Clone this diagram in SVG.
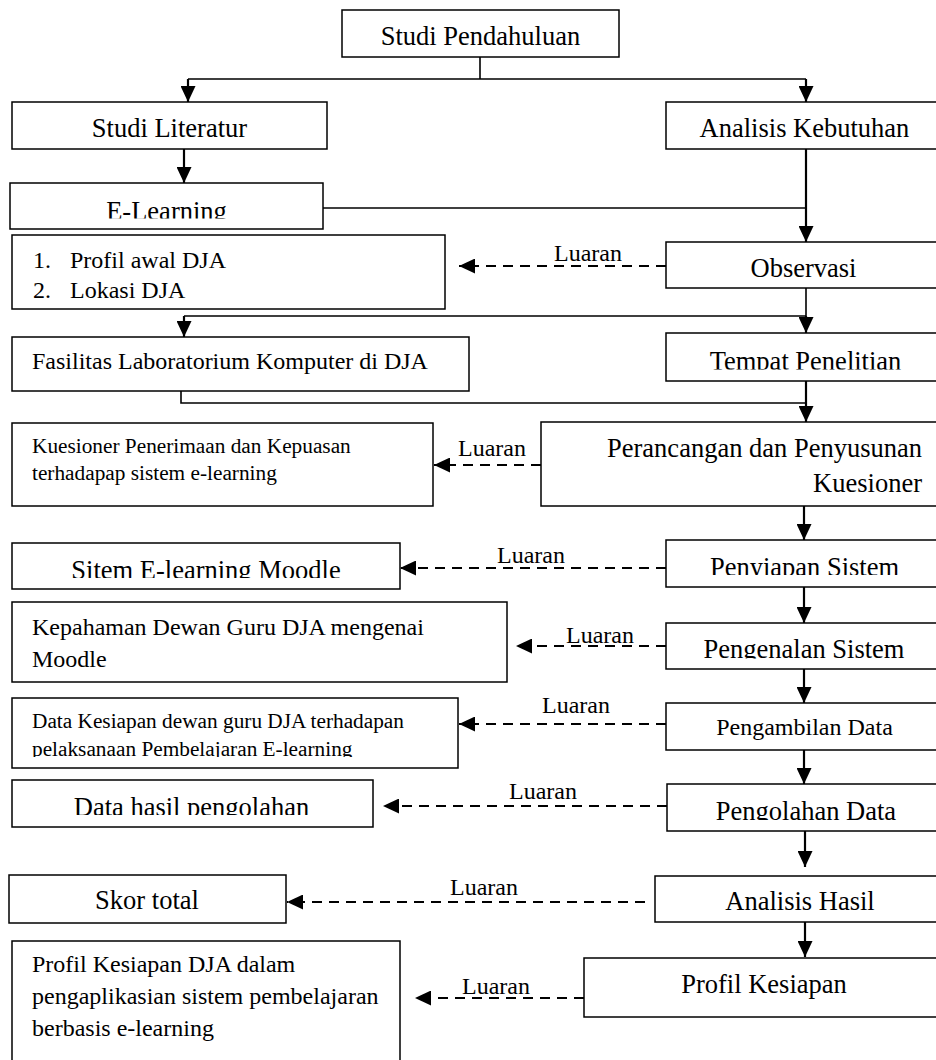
<svg xmlns="http://www.w3.org/2000/svg" width="936" height="1060" viewBox="0 0 936 1060">
<style>
  .box { fill: #fff; stroke: #000; stroke-width: 1.5; }
  .t { font-family: "Liberation Serif", "Times New Roman", serif; fill: #000; }
  .big { font-size: 26.5px; }
  .mid { font-size: 24px; }
  .sm { font-size: 21.3px; }
  .c { text-anchor: middle; }
  .lbl { font-family: "Liberation Serif", "Times New Roman", serif; font-size: 24px; fill: #000; }
  .ln { fill: none; stroke: #000; stroke-width: 1.6; }
  .ar { fill: none; stroke: #000; stroke-width: 2.2; marker-end: url(#ah); }
  .da { fill: none; stroke: #000; stroke-width: 2.2; stroke-dasharray: 10 7; marker-end: url(#ah); }
</style>
<defs>
  <marker id="ah" viewBox="0 0 16 15" refX="16" refY="7.5" markerWidth="16" markerHeight="15" markerUnits="userSpaceOnUse" orient="auto">
    <path d="M0,0 L16,7.5 L0,15 z" fill="#000"/>
  </marker>
  <clipPath id="cE"><rect x="0" y="180" width="936" height="38.5"/></clipPath>
  <clipPath id="cTempat"><rect x="0" y="330" width="936" height="39.5"/></clipPath>
  <clipPath id="cSitem"><rect x="0" y="540" width="936" height="38"/></clipPath>
  <clipPath id="cPenyiapan"><rect x="0" y="537" width="936" height="38"/></clipPath>
  <clipPath id="cPengenalan"><rect x="0" y="620" width="936" height="38.5"/></clipPath>
  <clipPath id="cKesiapan"><rect x="0" y="695" width="936" height="62"/></clipPath>
  <clipPath id="cHasil"><rect x="0" y="777" width="936" height="38"/></clipPath>
  <clipPath id="cOlah"><rect x="0" y="781" width="936" height="39"/></clipPath>
</defs>
<rect width="936" height="1060" fill="#fff"/>

<g id="connectors">
  <path class="ln" d="M480,57 V79 M188,79 H806"/>
  <path class="ar" d="M188,79 V102"/>
  <path class="ar" d="M806,79 V102"/>
  <path class="ar" d="M184,149 V183"/>
  <path class="ln" d="M323,208 H806"/>
  <path class="ar" d="M806,149 V242"/>
  <path class="da" d="M666,266 H459"/>
  <text class="lbl" x="554" y="261">Luaran</text>
  <path class="ln" d="M806,288 V316 M184,316 H806"/>
  <path class="ar" d="M184,316 V337"/>
  <path class="ar" d="M806,316 V333"/>
  <path class="ln" d="M181,391 V403 H806"/>
  <path class="ar" d="M806,381 V422"/>
  <path class="da" d="M541,465 H434"/>
  <text class="lbl" x="458" y="456">Luaran</text>
  <path class="ar" d="M804,506 V540"/>
  <path class="da" d="M666,568 H400"/>
  <text class="lbl" x="497" y="563">Luaran</text>
  <path class="ar" d="M804,587 V623"/>
  <path class="da" d="M666,646 H516"/>
  <text class="lbl" x="566" y="643">Luaran</text>
  <path class="ar" d="M804,669 V703"/>
  <path class="da" d="M666,724 H459"/>
  <text class="lbl" x="542" y="713">Luaran</text>
  <path class="ar" d="M804,750 V784"/>
  <path class="da" d="M667,806 H383"/>
  <text class="lbl" x="509" y="799">Luaran</text>
  <path class="ar" d="M805,831 V867"/>
  <path class="da" d="M645,902 H287"/>
  <text class="lbl" x="450" y="895">Luaran</text>
  <path class="ar" d="M805,922 V957"/>
  <path class="da" d="M584,998 H415"/>
  <text class="lbl" x="462" y="994">Luaran</text>
</g>

<g id="n-studi-pendahuluan">
  <rect class="box" x="342" y="10" width="277" height="47"/>
  <text class="t big c" x="480.5" y="45">Studi Pendahuluan</text>
</g>
<g id="n-studi-literatur">
  <rect class="box" x="12" y="102" width="315" height="47"/>
  <text class="t big c" x="169.5" y="137">Studi Literatur</text>
</g>
<g id="n-analisis-kebutuhan">
  <rect class="box" x="666" y="102" width="280" height="47"/>
  <text class="t big c" x="804.5" y="137">Analisis Kebutuhan</text>
</g>
<g id="n-elearning">
  <rect class="box" x="10" y="183" width="313" height="46"/>
  <text class="t big c" x="166.5" y="219.5" clip-path="url(#cE)">E-Learning</text>
</g>
<g id="n-observasi">
  <rect class="box" x="666" y="242" width="280" height="46"/>
  <text class="t big c" x="803.5" y="277">Observasi</text>
</g>
<g id="n-profil-awal">
  <rect class="box" x="12" y="235" width="433" height="74"/>
  <text class="t mid" x="33" y="268">1.</text>
  <text class="t mid" x="70" y="268">Profil awal DJA</text>
  <text class="t mid" x="33" y="298">2.</text>
  <text class="t mid" x="70" y="298">Lokasi DJA</text>
</g>
<g id="n-fasilitas">
  <rect class="box" x="12" y="337" width="457" height="54"/>
  <text class="t mid" x="32" y="369">Fasilitas Laboratorium Komputer di DJA</text>
</g>
<g id="n-tempat">
  <rect class="box" x="666" y="333" width="280" height="48"/>
  <text class="t big c" x="805.5" y="370" clip-path="url(#cTempat)">Tempat Penelitian</text>
</g>
<g id="n-kuesioner">
  <rect class="box" x="12" y="423" width="421" height="83"/>
  <text class="t sm" x="32" y="453">Kuesioner Penerimaan dan Kepuasan</text>
  <text class="t sm" x="32" y="480">terhadapap sistem e-learning</text>
</g>
<g id="n-perancangan">
  <rect class="box" x="541" y="422" width="405" height="84"/>
  <text class="t big" x="922" y="457" text-anchor="end">Perancangan dan Penyusunan</text>
  <text class="t big" x="922" y="492" text-anchor="end">Kuesioner</text>
</g>
<g id="n-sitem">
  <rect class="box" x="12" y="543" width="388" height="46"/>
  <text class="t big c" x="206" y="578.5" clip-path="url(#cSitem)">Sitem E-learning Moodle</text>
</g>
<g id="n-penyiapan">
  <rect class="box" x="666" y="540" width="280" height="47"/>
  <text class="t big c" x="804.5" y="575.5" clip-path="url(#cPenyiapan)">Penyiapan Sistem</text>
</g>
<g id="n-kepahaman">
  <rect class="box" x="12" y="602" width="495" height="80"/>
  <text class="t mid" x="32" y="635">Kepahaman Dewan Guru DJA mengenai</text>
  <text class="t mid" x="32" y="667">Moodle</text>
</g>
<g id="n-pengenalan">
  <rect class="box" x="666" y="623" width="280" height="46"/>
  <text class="t big c" x="804" y="658" clip-path="url(#cPengenalan)">Pengenalan Sistem</text>
</g>
<g id="n-data-kesiapan">
  <rect class="box" x="12" y="698" width="446" height="70"/>
  <text class="t sm" x="32" y="728">Data Kesiapan dewan guru DJA terhadapan</text>
  <text class="t sm" x="32" y="756" clip-path="url(#cKesiapan)">pelaksanaan Pembelajaran E-learning</text>
</g>
<g id="n-pengambilan">
  <rect class="box" x="666" y="703" width="280" height="47"/>
  <text class="t mid c" x="804.5" y="735">Pengambilan Data</text>
</g>
<g id="n-data-hasil">
  <rect class="box" x="12" y="780" width="361" height="47"/>
  <text class="t big c" x="191.5" y="815.5" clip-path="url(#cHasil)">Data hasil pengolahan</text>
</g>
<g id="n-pengolahan">
  <rect class="box" x="667" y="784" width="279" height="47"/>
  <text class="t big c" x="806" y="820" clip-path="url(#cOlah)">Pengolahan Data</text>
</g>
<g id="n-skor">
  <rect class="box" x="9" y="875" width="277" height="48"/>
  <text class="t big c" x="147" y="909">Skor total</text>
</g>
<g id="n-analisis-hasil">
  <rect class="box" x="655" y="876" width="291" height="46"/>
  <text class="t big c" x="800" y="910">Analisis Hasil</text>
</g>
<g id="n-profil-kesiapan">
  <rect class="box" x="584" y="958" width="362" height="59"/>
  <text class="t big c" x="764" y="993">Profil Kesiapan</text>
</g>
<g id="n-profil-kesiapan-dja">
  <rect class="box" x="12" y="941" width="388" height="140"/>
  <text class="t mid" x="32" y="972">Profil Kesiapan DJA dalam</text>
  <text class="t mid" x="32" y="1004">pengaplikasian sistem pembelajaran</text>
  <text class="t mid" x="32" y="1036">berbasis e-learning</text>
</g>
</svg>
